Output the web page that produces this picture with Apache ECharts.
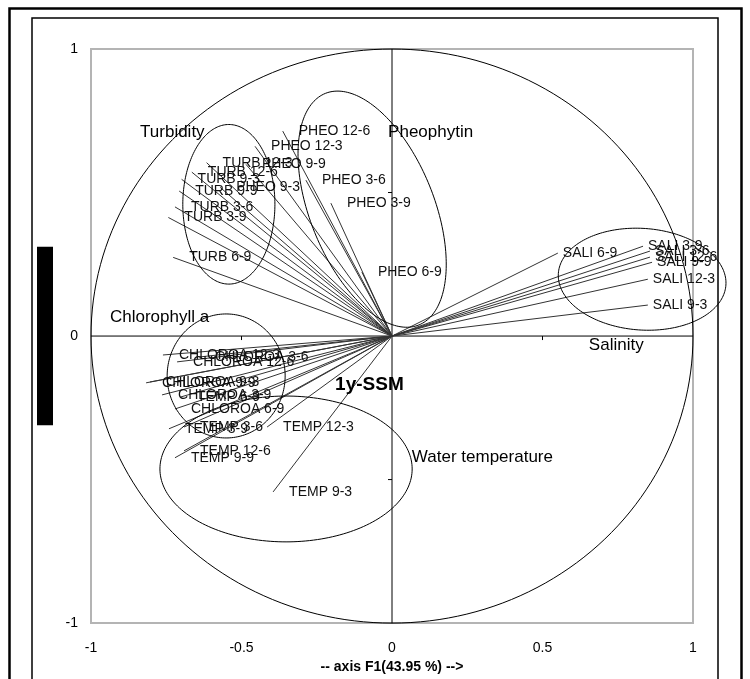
<!DOCTYPE html>
<html><head><meta charset="utf-8">
<script src="https://cdn.jsdelivr.net/npm/echarts@6/dist/echarts.min.js"></script>
<style>html,body{margin:0;padding:0;background:#fff}#chart{width:750px;height:679px}</style>
</head><body><div id="chart"></div>
<script>
// ---- data ----
const turbLabels = ['TURB 12-3','TURB 12-6','TURB 9-3','TURB 9-9','TURB 3-6','TURB 3-9','TURB 6-9'];
const turbX = [-0.616,-0.665,-0.699,-0.707,-0.721,-0.743,-0.727];
const turbY = [0.604,0.571,0.546,0.505,0.450,0.413,0.274];

const pheoLabels = ['PHEO 12-6','PHEO 12-3','PHEO 9-9','PHEO 9-3','PHEO 3-6','PHEO 3-9','PHEO 6-9'];
const pheoX = [-0.363,-0.455,-0.485,-0.571,-0.286,-0.203,-0.100];
const pheoY = [0.714,0.661,0.598,0.518,0.543,0.463,0.223];

const saliLabels = ['SALI 6-9','SALI 3-9','SALI 3-6','SALI 12-6','SALI 9-9','SALI 12-3','SALI 9-3'];
const saliX = [0.551,0.834,0.857,0.857,0.864,0.850,0.850];
const saliY = [0.289,0.313,0.296,0.275,0.257,0.198,0.108];

const chlLabels = ['CHLOROA 12-3','CHLOROA 3-6','CHLOROA 12-6','CHLOROA 9-9','CHLOROA 9-3','CHLOROA 3-9','CHLOROA 6-9'];
const chlX = [-0.761,-0.641,-0.714,-0.817,-0.804,-0.764,-0.721];
const chlY = [-0.066,-0.073,-0.090,-0.163,-0.160,-0.205,-0.254];

const tempLabels = ['TEMP 6-9','TEMP 3-6','TEMP 3-9','TEMP 12-3','TEMP 12-6','TEMP 9-9','TEMP 9-3'];
const tempX = [-0.701,-0.691,-0.741,-0.415,-0.691,-0.721,-0.395];
const tempY = [-0.212,-0.317,-0.323,-0.317,-0.400,-0.424,-0.543];

// group annotations
const groupNames = ['Turbidity','Pheophytin','Salinity','Chlorophyll a','Water temperature'];
const groupX = [-0.837,-0.013,0.654,-0.937,0.066];
const groupY = [0.710,0.710,-0.031,0.066,-0.421];
const siteName = ['1y-SSM'];
const siteX = [-0.189];
const siteY = [-0.170];

// correlation circle + group ellipses (centre, radii in axis units, tilt in degrees)
const ellipseCX = [0, -0.542, -0.066, 0.831, -0.551, -0.352];
const ellipseCY = [0, 0.459, 0.442, 0.198, -0.139, -0.463];
const ellipseRX = [1, 0.153, 0.206, 0.279, 0.196, 0.419];
const ellipseRY = [1, 0.278, 0.435, 0.177, 0.216, 0.254];
const ellipseRot = [0, 0, -22, 4, 0, 0];

const xTickValues = [-1, -0.5, 0, 0.5, 1];
const yTickValues = [-1, 0, 1];

// ---- rendering ----
const FONT = '"Liberation Sans", Arial, sans-serif';
const chart = echarts.init(document.getElementById('chart'), null, {renderer: 'canvas'});

function rows(xs, ys, names) { return xs.map((x, i) => [x, ys[i], names[i]]); }

function vectorSeries(xs, ys, names, labelOffset) {
  return {
    type: 'custom', clip: false, silent: true, z: 3,
    encode: {x: 0, y: 1},
    data: rows(xs, ys, names),
    renderItem: function (params, api) {
      const p0 = api.coord([0, 0]);
      const p1 = api.coord([api.value(0), api.value(1)]);
      const name = names[params.dataIndex];
      return {type: 'group', children: [
        {type: 'line', shape: {x1: p0[0], y1: p0[1], x2: p1[0], y2: p1[1]},
         style: {stroke: '#333', lineWidth: 1}},
        {type: 'text', x: p1[0] + labelOffset, y: p1[1], z2: 10,
         style: {text: name, fill: '#111', fontSize: 14, fontFamily: FONT,
                 align: 'left', verticalAlign: 'middle'}}
      ]};
    }
  };
}

const crossSeries = {
  type: 'custom', clip: false, silent: true, z: 2,
  encode: {x: 0, y: 1},
  data: [[0, 0]],
  renderItem: function (params, api) {
    const l = api.coord([-1, 0]), r = api.coord([1, 0]);
    const b = api.coord([0, -1]), t = api.coord([0, 1]);
    const kids = [
      {type: 'line', shape: {x1: l[0], y1: l[1], x2: r[0], y2: r[1]}, style: {stroke: '#000', lineWidth: 1}},
      {type: 'line', shape: {x1: b[0], y1: b[1], x2: t[0], y2: t[1]}, style: {stroke: '#000', lineWidth: 1}}
    ];
    [-0.5, 0.5].forEach(v => {
      const px = api.coord([v, 0]);
      kids.push({type: 'line', shape: {x1: px[0], y1: px[1], x2: px[0], y2: px[1] + 4}, style: {stroke: '#000', lineWidth: 1}});
      const py = api.coord([0, v]);
      kids.push({type: 'line', shape: {x1: py[0] - 4, y1: py[1], x2: py[0], y2: py[1]}, style: {stroke: '#000', lineWidth: 1}});
    });
    return {type: 'group', children: kids};
  }
};

const ellipseSeries = {
  type: 'custom', clip: false, silent: true, z: 4,
  encode: {x: 0, y: 1},
  data: ellipseCX.map((x, i) => [x, ellipseCY[i], ellipseRX[i], ellipseRY[i], ellipseRot[i]]),
  renderItem: function (params, api) {
    const c = api.coord([api.value(0), api.value(1)]);
    const s = api.size([api.value(2), api.value(3)]);
    const rot = api.value(4) * Math.PI / 180;
    const pts = [];
    for (let i = 0; i <= 200; i++) {
      const t = i / 200 * 2 * Math.PI;
      const ex = s[0] * Math.cos(t), ey = s[1] * Math.sin(t);
      pts.push([c[0] + ex * Math.cos(rot) - ey * Math.sin(rot),
                c[1] + ex * Math.sin(rot) + ey * Math.cos(rot)]);
    }
    return {type: 'polyline', shape: {points: pts}, style: {stroke: '#000', fill: null, lineWidth: 1}};
  }
};

function textSeries(xs, ys, names, size, weight) {
  return {
    type: 'custom', clip: false, silent: true, z: 6,
    encode: {x: 0, y: 1},
    data: rows(xs, ys, names),
    renderItem: function (params, api) {
      const p = api.coord([api.value(0), api.value(1)]);
      return {type: 'text', x: p[0], y: p[1],
        style: {text: names[params.dataIndex], fill: '#000', fontSize: size, fontWeight: weight,
                fontFamily: FONT, align: 'left', verticalAlign: 'middle'}};
    }
  };
}

const option = {
  backgroundColor: '#fff',
  animation: false,
  graphic: [
    {type: 'rect', shape: {x: 9.5, y: 8.5, width: 732, height: 700}, style: {fill: null, stroke: '#000', lineWidth: 2.5}, z: 0},
    {type: 'rect', shape: {x: 32, y: 18, width: 686, height: 700}, style: {fill: null, stroke: '#000', lineWidth: 1.5}, z: 0}
  ],
  grid: {left: 91, top: 49, width: 602, height: 575, show: true, borderColor: '#b4b4b4', borderWidth: 2, backgroundColor: 'transparent'},
  xAxis: {
    type: 'value', min: xTickValues[0], max: xTickValues[xTickValues.length - 1], interval: 0.5,
    axisLine: {show: false}, axisTick: {show: false}, splitLine: {show: false},
    axisLabel: {color: '#000', fontSize: 14, fontFamily: FONT, margin: 18},
    name: '-- axis F1(43.95 %) -->', nameLocation: 'middle', nameGap: 33,
    nameTextStyle: {color: '#000', fontSize: 14, fontWeight: 'bold', fontFamily: FONT}
  },
  yAxis: {
    type: 'value', min: yTickValues[0], max: yTickValues[yTickValues.length - 1], interval: 1,
    axisLine: {show: false}, axisTick: {show: false}, splitLine: {show: false},
    axisLabel: {color: '#000', fontSize: 14, fontFamily: FONT, margin: 13},
    name: '-- axis F2 -->', nameLocation: 'middle', nameGap: 38, nameRotate: 90,
    nameTextStyle: {color: '#000', backgroundColor: '#000', fontSize: 12, lineHeight: 12, fontWeight: 'bold',
                    fontFamily: FONT, padding: [2, 54]}
  },
  series: [
    crossSeries,
    ellipseSeries,
    vectorSeries(turbX, turbY, turbLabels, 16),
    vectorSeries(pheoX, pheoY, pheoLabels, 16),
    vectorSeries(saliX, saliY, saliLabels, 5),
    vectorSeries(chlX, chlY, chlLabels, 16),
    vectorSeries(tempX, tempY, tempLabels, 16),
    textSeries(groupX, groupY, groupNames, 17, 'normal'),
    textSeries(siteX, siteY, siteName, 19, 'bold')
  ]
};
chart.setOption(option);
</script>
</body></html>
